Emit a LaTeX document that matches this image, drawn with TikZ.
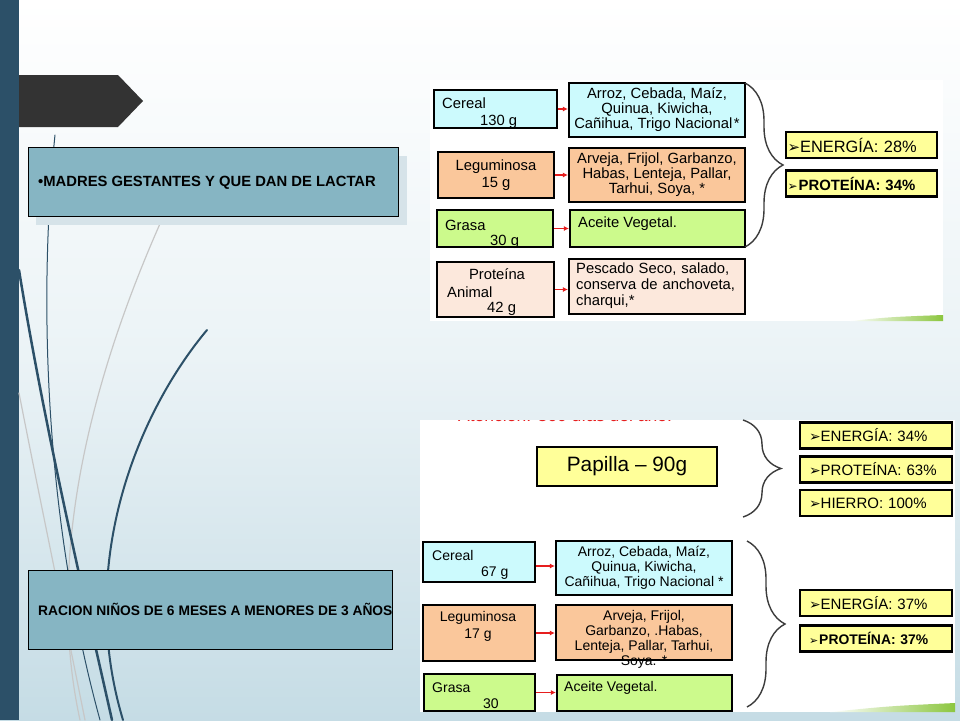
\documentclass[tikz,border=0pt]{standalone}
\usepackage{fontspec}
\setmainfont{Liberation Sans}
\newfontfamily\symfont{DejaVu Sans}
\usetikzlibrary{decorations.pathreplacing,arrows.meta}
\definecolor{fondo}{RGB}{197,220,229}
\definecolor{franja}{RGB}{44,80,104}
\definecolor{pizarra}{RGB}{51,51,51}
\definecolor{celeste}{RGB}{134,181,195}
\definecolor{sombra}{RGB}{214,227,233}
\definecolor{cian}{RGB}{204,250,253}
\definecolor{naranja}{RGB}{250,199,155}
\definecolor{verde}{RGB}{204,250,140}
\definecolor{rosado}{RGB}{252,232,220}
\definecolor{amarillo}{RGB}{255,255,153}
\definecolor{llavegris}{RGB}{60,60,60}
\definecolor{rojo}{RGB}{230,30,30}
\definecolor{pasto}{RGB}{140,198,63}
\newcommand\bala[1]{{\symfont\fontsize{#1}{#1}\selectfont ➢}}
\begin{document}
\begin{tikzpicture}[x=1pt,y=-1pt,
  caja/.style={draw=black,line width=2.2pt,inner sep=0pt},
  tp/.style={font=\fontsize{14.8}{15}\selectfont,inner sep=0pt},
  bt/.style={font=\fontsize{14}{15}\selectfont,inner sep=0pt},
  res/.style={caja,fill=amarillo,align=left,inner xsep=1.5pt,text width=148pt,minimum height=26pt,font=\fontsize{16.4}{17}\selectfont},
  res2/.style={caja,fill=amarillo,align=left,inner xsep=9pt,text width=134pt,minimum height=26pt,font=\fontsize{15}{16}\selectfont},
  titulo/.style={draw=black,line width=0.8pt,fill=celeste,inner sep=0pt},
  flecha/.style={rojo,line width=1.4pt,-{Latex[length=5pt,width=5pt]}},
  llave/.style={draw=llavegris,line width=1.4pt,decorate,decoration={brace,amplitude=38pt}},
  curva/.style={franja,line cap=round},
  tenue/.style={black!22,line width=1.2pt,line cap=round}]
\useasboundingbox (0,0) rectangle (960,720);
\shade[top color=white,bottom color=fondo,middle color=fondo!35!white] (0,0) rectangle (960,720);
\fill[franja] (0,0) rectangle (19,720);

\draw[tenue] (163,217) .. controls (90,380) and (45,560) .. (80,720);
\draw[tenue] (19,393) .. controls (40,500) and (65,620) .. (85,720);
\draw[curva,line width=2.5pt] (19,270) .. controls (45,430) and (85,600) .. (112,720);
\draw[curva,line width=1pt] (55,135) .. controls (38,300) and (45,520) .. (100,720);
\draw[curva,line width=2pt] (207,330) .. controls (140,410) and (75,560) .. (123,720);

\fill[pizarra] (19,75) -- (118,75) -- (143,101) -- (118,127) -- (19,127) -- cycle;

\fill[sombra] (36,156) rectangle (407,225);
\node[titulo,minimum width=370pt,minimum height=69pt] (madres) at (213,181.5) {};
\node[anchor=base west,inner sep=0pt,font=\bfseries\fontsize{14.8}{15}\selectfont] (madres-t) at (38,186) {•MADRES GESTANTES Y QUE DAN DE LACTAR};
\node[titulo,minimum width=364pt,minimum height=79pt] (racion) at (210,609.5) {};
\node[anchor=base west,inner sep=0pt,font=\bfseries\fontsize{13.8}{15}\selectfont] (racion-t) at (38,615) {RACION NIÑOS DE 6 MESES A MENORES DE 3 AÑOS};

\fill[white] (430,80) rectangle (943,321);
\fill[white] (420,420) rectangle (955,712);
\shade[left color=white,right color=pasto] (850,321) .. controls (890,317) .. (943,315) -- (943,321) -- cycle;
\shade[left color=white,right color=pasto] (830,712) .. controls (890,706) .. (955,703) -- (955,712) -- cycle;

\begin{scope}
  \clip (420,420) rectangle (955,712);
  \node[anchor=base west,inner sep=0pt,text=rojo,font=\fontsize{17.5}{17.5}\selectfont] (aviso) at (458,421.8) {Atención: 360 días del año.};
\end{scope}

\node[caja,fill=cian,minimum width=123pt,minimum height=38pt] (cer) at (495.5,109) {};
\node[tp,anchor=base west] (cer-a) at (442,108) {Cereal};
\node[tp,anchor=base west] (cer-b) at (480,125) {130 g};
\node[caja,fill=cian,minimum width=176pt,minimum height=54pt,tp,align=center] (cerl) at (657,110) {Arroz, Cebada, Maíz,\\Quinua, Kiwicha,\\Cañihua, Trigo Nacional\kern1.5pt*};
\node[caja,fill=naranja,minimum width=116pt,minimum height=46pt,tp,align=center] (leg) at (496,175) {Leguminosa\\[2pt]15 g};
\node[caja,fill=naranja,minimum width=176pt,minimum height=54pt,tp,align=center] (legl) at (657,175) {Arveja, Frijol, Garbanzo,\\Habas, Lenteja, Pallar,\\Tarhui, Soya, *};
\node[caja,fill=verde,minimum width=116pt,minimum height=37pt] (gra) at (495,228.5) {};
\node[tp,anchor=base west] (gra-a) at (445,230) {Grasa};
\node[tp,anchor=base west] (gra-b) at (490,245) {30 g};
\node[caja,fill=verde,minimum width=175pt,minimum height=37pt] (gral) at (657.5,228.5) {};
\node[tp,anchor=base west] (gral-a) at (578,227) {Aceite Vegetal.};
\node[caja,fill=rosado,minimum width=117pt,minimum height=55pt] (pro) at (495.5,289.5) {};
\node[tp,anchor=base] (pro-a) at (497,279) {Proteína};
\node[tp,anchor=base west] (pro-b) at (447,297) {Animal};
\node[tp,anchor=base west] (pro-c) at (487,312) {42 g};
\node[caja,fill=rosado,minimum width=176pt,minimum height=55pt] (prol) at (657,286.5) {};
\node[anchor=north west,inner sep=0pt,text width=162pt,font=\fontsize{14.8}{16}\selectfont] (prol-a) at (576,263) {\noindent Pescado Seco, salado,\linebreak conserva de anchoveta,\linebreak charqui,*};

\draw[flecha] (cer.east) -- (cer.east -| cerl.west);
\draw[flecha] (leg.east) -- (leg.east -| legl.west);
\draw[flecha] (gra.east) -- (gra.east -| gral.west);
\draw[flecha] (pro.east) -- (pro.east -| prol.west);

\draw[llave] (745,83) -- (745,247);
\node[res] (en1) at (861.5,145) {\bala{15}ENERGÍA: 28\%};
\node[res,font=\bfseries\fontsize{14.9}{16}\selectfont] (pr1) at (861.5,183.5) {\bala{12}\kern1pt PROTEÍNA: 34\%};

\node[caja,fill=amarillo,minimum width=180pt,minimum height=39pt,font=\fontsize{20.8}{22}\selectfont] (pap) at (627,466.5) {Papilla – 90g};
\draw[llave] (743,420) -- (743,517);
\node[res2] (en2) at (876,435.5) {\bala{14}ENERGÍA: 34\%};
\node[res2] (pr2) at (876,469.5) {\bala{14}PROTEÍNA: 63\%};
\node[res2] (hi2) at (876,503) {\bala{14}HIERRO: 100\%};

\node[caja,fill=cian,minimum width=112pt,minimum height=40pt] (cer2) at (479,562) {};
\node[bt,anchor=base west] (cer2-a) at (432,560) {Cereal};
\node[bt,anchor=base west] (cer2-b) at (481,576) {67 g};
\node[caja,fill=cian,minimum width=176pt,minimum height=54pt,bt,align=center] (cerl2) at (644,568) {Arroz, Cebada, Maíz,\\Quinua, Kiwicha,\\Cañihua, Trigo Nacional *};
\node[caja,fill=naranja,minimum width=112pt,minimum height=56pt] (leg2) at (479,633) {};
\node[bt,align=center] (leg2-a) at (478,626.5) {Leguminosa\\[2pt]17 g};
\node[caja,fill=naranja,minimum width=176pt,minimum height=55pt] (legl2) at (644,632.5) {};
\node[bt,align=center] (legl2-a) at (644,639.5) {Arveja, Frijol,\\Garbanzo, .Habas,\\Lenteja, Pallar, Tarhui,\\Soya. *};
\node[caja,fill=verde,minimum width=111pt,minimum height=37pt] (gra2) at (479.5,692.5) {};
\node[bt,anchor=base west] (gra2-a) at (432,692) {Grasa};
\node[bt,anchor=base west] (gra2-b) at (483,708) {30};
\node[caja,fill=verde,minimum width=175pt,minimum height=36pt] (gral2) at (644.5,693) {};
\node[bt,anchor=base west] (gral2-a) at (564,691) {Aceite Vegetal.};

\draw[flecha] ([yshift=-4pt]cer2.east) -- ([yshift=-4pt]cer2.east -| cerl2.west);
\draw[flecha] (leg2.east) -- (leg2.east -| legl2.west);
\draw[flecha] (gra2.east) -- (gra2.east -| gral2.west);

\draw[llave] (747,541) -- (747,707);
\node[res2] (en3) at (876,603) {\bala{14}ENERGÍA: 37\%};
\node[res2,font=\bfseries\fontsize{13.9}{15}\selectfont] (pr3) at (876,638.5) {\bala{11}\kern1pt PROTEÍNA: 37\%};
\end{tikzpicture}
\end{document}
